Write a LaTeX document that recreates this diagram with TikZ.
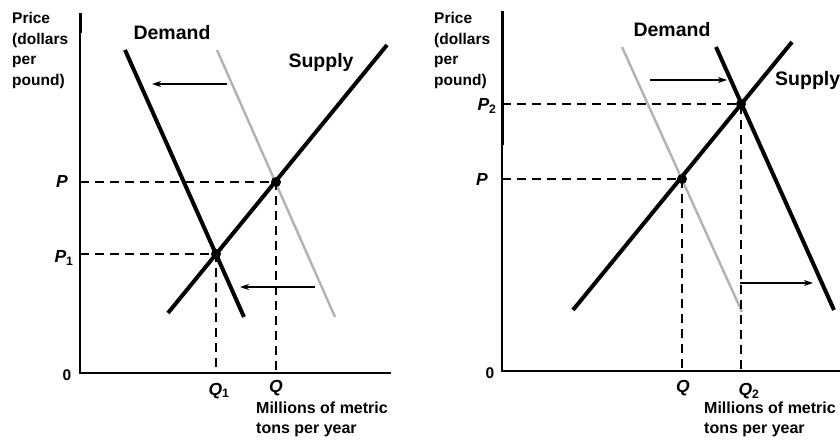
\documentclass[tikz,border=0pt]{standalone}
\usepackage{fontspec}
\setmainfont{Liberation Sans}
\usetikzlibrary{arrows.meta}
\begin{document}
\begin{tikzpicture}[x=1pt,y=-1pt,
  axis/.style={line width=1.9pt},
  axistop/.style={line width=3pt},
  curve/.style={line width=4pt},
  oldcurve/.style={line width=2.4pt, draw=gray!60},
  guide/.style={line width=1.3pt, dash pattern=on 9pt off 6pt},
  shiftarrow/.style={line width=1.4pt, -{Stealth[length=9pt,width=6pt]}},
  lbl/.style={font=\bfseries\fontsize{15.5}{20.7}\selectfont, align=left, inner sep=0pt},
  big/.style={font=\bfseries\fontsize{19.5}{22}\selectfont, inner sep=0pt},
  var/.style={font=\bfseries\itshape\fontsize{17.5}{18}\selectfont, inner sep=0pt},
  unit/.style={font=\bfseries\fontsize{16}{20}\selectfont, align=left, inner sep=0pt},
  eqdot/.style={circle, fill=black, inner sep=0pt, minimum size=10pt}]
\useasboundingbox (0,0) rectangle (840,441);
\fill[white] (0,0) rectangle (840,441);

% ---------------- left panel ----------------
\coordinate (LYtop) at (80,13);
\coordinate (LYmid) at (80,33);
\coordinate (LO) at (80,373);
\coordinate (LXend) at (391,373);
\draw[axis] (LYtop) -- (LO) -- (LXend);
\draw[axistop] (LYtop) -- (LYmid);

\coordinate (LOD1) at (217,50);
\coordinate (LOD2) at (335,317);
\draw[oldcurve] (LOD1) -- (LOD2);

\coordinate (LND1) at (125,50);
\coordinate (LND2) at (244,317);
\draw[curve] (LND1) -- (LND2);

\coordinate (LS1) at (168,313);
\coordinate (LS2) at (387,45);
\draw[curve] (LS1) -- (LS2);

\coordinate (LE) at (276,182);
\coordinate (LE1) at (216,254);
\coordinate (LPax) at (80,182);
\coordinate (LP1ax) at (80,254);
\coordinate (LQax) at (276,373);
\coordinate (LQ1ax) at (216,373);
\draw[guide] (LPax) -- (LE) -- (LQax);
\draw[guide] (LP1ax) -- (LE1) -- (LQ1ax);
\node[eqdot] (le) at (LE) {};
\node[eqdot] (le1) at (LE1) {};

\coordinate (LA1s) at (227,84);
\coordinate (LA1e) at (152,84);
\draw[shiftarrow] (LA1s) -- (LA1e);
\coordinate (LA2s) at (315,287);
\coordinate (LA2e) at (240,287);
\draw[shiftarrow] (LA2s) -- (LA2e);

\node[lbl, anchor=north west] (lprice) at (12,12) {Price\\(dollars\\per\\pound)};
\node[big] (ldem) at (172,33) {Demand};
\node[big] (lsup) at (321,62) {Supply};
\node[lbl] (lzero) at (67,375) {0};
\node[var] (lp) at (62,181) {P};
\node[var] (lp1) at (64,258) {P\textsubscript{\upshape 1}};
\node[var] (lq1) at (219,391) {Q\textsubscript{\upshape 1}};
\node[var] (lq) at (276,388) {Q};
\node[unit, anchor=north west] (lunit) at (256,402) {Millions of metric\\tons per year};

% ---------------- right panel ----------------
\coordinate (RYtop) at (502,11);
\coordinate (RYmid) at (502,145);
\coordinate (RO) at (502,371);
\coordinate (RXend) at (842,371);
\draw[axis] (RYtop) -- (RO) -- (RXend);
\draw[axistop] (RYtop) -- (RYmid);

\coordinate (ROD1) at (622,47);
\coordinate (ROD2) at (742,312);
\draw[oldcurve] (ROD1) -- (ROD2);

\coordinate (RND1) at (716,47);
\coordinate (RND2) at (834,310);
\draw[curve] (RND1) -- (RND2);

\coordinate (RS1) at (573,310);
\coordinate (RS2) at (792,42);
\draw[curve] (RS1) -- (RS2);

\coordinate (RE) at (682,179);
\coordinate (RE2) at (741,104);
\coordinate (RPax) at (502,179);
\coordinate (RP2ax) at (502,104);
\coordinate (RQax) at (682,371);
\coordinate (RQ2ax) at (741,371);
\draw[guide] (RPax) -- (RE) -- (RQax);
\draw[guide] (RP2ax) -- (RE2) -- (RQ2ax);
\node[eqdot] (re) at (RE) {};
\node[eqdot] (re2) at (RE2) {};

\coordinate (RA1s) at (650,80);
\coordinate (RA1e) at (727,80);
\draw[shiftarrow] (RA1s) -- (RA1e);
\coordinate (RA2s) at (740,283);
\coordinate (RA2e) at (813,283);
\draw[shiftarrow] (RA2s) -- (RA2e);

\node[lbl, anchor=north west] (rprice) at (434,12) {Price\\(dollars\\per\\pound)};
\node[big] (rdem) at (672,30) {Demand};
\node[big, anchor=west] (rsup) at (775,80) {Supply};
\node[lbl] (rzero) at (490,373) {0};
\node[var] (rp2) at (487,106) {P\textsubscript{\upshape 2}};
\node[var] (rp) at (482,179) {P};
\node[var] (rq) at (683,388) {Q};
\node[var] (rq2) at (749,391) {Q\textsubscript{\upshape 2}};
\node[unit, anchor=north west] (runit) at (704,402) {Millions of metric\\tons per year};
\end{tikzpicture}
\end{document}
